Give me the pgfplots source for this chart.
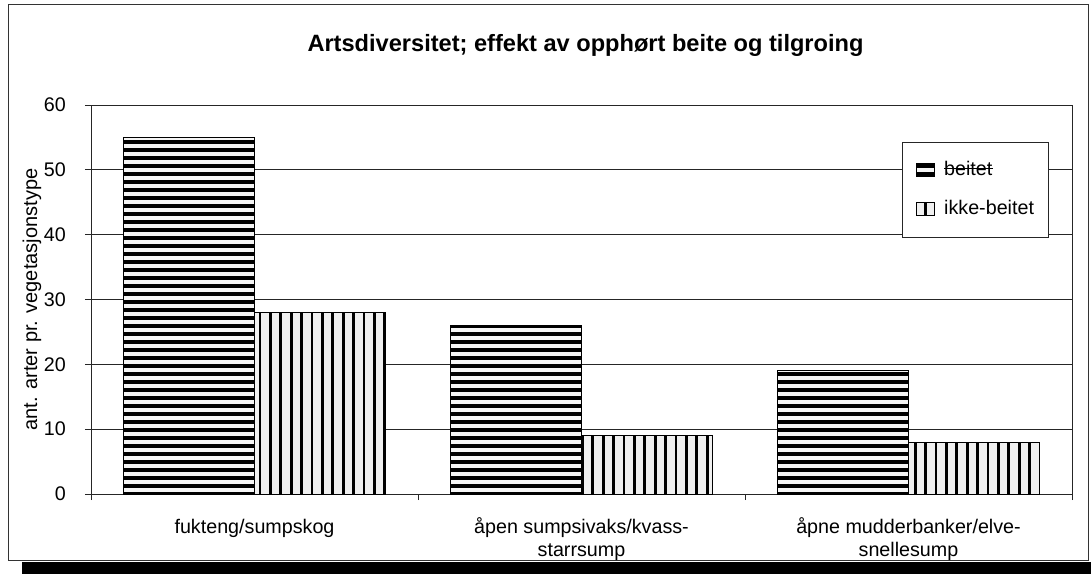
\documentclass[border=0pt]{standalone}
\usepackage{fontspec}
\setmainfont{Liberation Sans}
\usepackage{pgfplots}
\pgfplotsset{compat=1.18}
\usetikzlibrary{patterns.meta}
\newcommand{\lbl}{\fontsize{19.7}{23}\selectfont}
\newcommand{\two}[2]{\begin{tabular}[t]{@{}c@{}}#1\\#2\end{tabular}}
\begin{document}
\begin{tikzpicture}[x=1pt,y=1pt]
\path[use as bounding box] (0,0) rectangle (1091,574);
\fill[black] (22,0) rectangle (1091,12.5);
\draw[line width=1pt, black!80] (8,13.5) rectangle (1088,569);
\node[font=\bfseries\fontsize{23.6}{28}\selectfont, anchor=base] at (585.5,522) {Artsdiversitet; effekt av opphørt beite og tilgroing};
\begin{axis}[
  at={(91pt,80pt)}, anchor=south west,
  scale only axis, width=981pt, height=389pt,
  ymin=0, ymax=60, ytick={0,10,...,60},
  xmin=-0.5, xmax=2.5,
  xtick={0,1,2},
  xticklabels={fukteng/sumpskog, {\two{åpen sumpsivaks/kvass-}{starrsump}}, {\two{åpne mudderbanker/elve-}{snellesump}}},
  minor xtick={-0.5,0.5,1.5,2.5},
  major x tick style={draw=none},
  tick align=outside, tick pos=left,
  major tick length=6pt, minor tick length=6pt,
  every tick/.style={black!85, line width=0.8pt},
  minor tick style={black!85, line width=0.8pt},
  ymajorgrids, grid style={black!85, line width=0.8pt},
  axis line style={black!85, line width=0.8pt},
  /pgf/number format/assume math mode=true,
  tick label style={font=\lbl},
  yticklabel style={inner sep=0pt, xshift=-19pt},
  xticklabel style={anchor=base, inner sep=0pt, yshift=-33pt},
  ylabel={ant. arter pr. vegetasjonstype},
  ylabel style={font=\fontsize{20}{24}\selectfont, at={(axis description cs:-0.0601,0.5)}, anchor=center},
  ybar=0pt, bar width=131pt,
  legend style={at={(rel axis cs:0.8267,0.9049)}, anchor=north west, draw=black!85, line width=0.8pt, fill=white, font=\lbl, inner xsep=14pt, inner ysep=19pt, row sep=21pt, column sep=9pt, nodes={inner sep=0pt, text height=14pt, text depth=4pt}},
  legend cell align=left,
  legend image code/.code={\draw[#1] (0pt,-6.5pt) rectangle (18pt,6.5pt);},
]
\addplot[draw=black, line width=0.8pt, preaction={fill=black!4}, pattern={Lines[angle=0,distance=8pt,line width=4.3pt]}] coordinates {(0,55) (1,26) (2,19)};
\addplot[draw=black, line width=0.8pt, preaction={fill=black!6}, pattern={Lines[angle=90,distance=10.4pt,line width=2.8pt]}] coordinates {(0,28) (1,9) (2,8)};
\legend{{\makebox[0pt][l]{\rule[0.3em]{2.5em}{1.2pt}}beitet}, ikke-beitet}
\end{axis}
\end{tikzpicture}
\end{document}
